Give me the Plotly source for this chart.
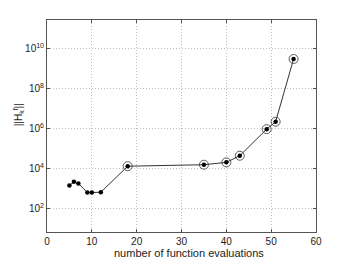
import plotly.graph_objects as go

evals = [5, 6, 7, 9, 10, 12, 18, 35, 40, 43, 49, 51, 55]
norm_h = [1480, 2240, 1860, 660, 660, 680, 13500, 16000, 21000, 45000, 950000, 2240000, 3.0e9]
circled_evals = [18, 35, 40, 43, 49, 51, 55]
circled_norm = [13500, 16000, 21000, 45000, 950000, 2240000, 3.0e9]

x_ticks = [0, 10, 20, 30, 40, 50, 60]
y_tick_vals = [1e2, 1e4, 1e6, 1e8, 1e10]
y_tick_text = ["10<sup>2</sup>", "10<sup>4</sup>", "10<sup>6</sup>", "10<sup>8</sup>", "10<sup>10</sup>"]
x_title = "number of function evaluations"
y_title = "||H<sub>k</sub><sup>f</sup>||"

FONT = "Liberation Sans, Arial"

fig = go.Figure()
fig.add_trace(go.Scatter(x=evals, y=norm_h, mode="lines+markers",
                         line=dict(color="black", width=0.8),
                         marker=dict(color="black", size=4.5),
                         showlegend=False))
fig.add_trace(go.Scatter(x=circled_evals, y=circled_norm, mode="markers",
                         marker=dict(color="rgba(0,0,0,0)", size=9,
                                     line=dict(color="#333", width=0.8)),
                         showlegend=False))

axis_common = dict(showline=True, linecolor="#555", linewidth=1, mirror="ticks",
                   ticks="inside", ticklen=3, tickcolor="#555",
                   showgrid=True, gridcolor="#bdbdbd", griddash="1px,2px", gridwidth=1,
                   zeroline=False, automargin=False,
                   tickfont=dict(family=FONT, size=10, color="#222"))

fig.update_xaxes(range=[0, 60], tickvals=x_ticks, **axis_common)
fig.update_yaxes(type="log", range=[0.85, 11.42], tickvals=y_tick_vals, ticktext=y_tick_text,
                 **axis_common)

fig.add_annotation(text=x_title, xref="paper", yref="paper", x=0.528, y=-0.10,
                   showarrow=False, xanchor="center", yanchor="middle",
                   font=dict(family=FONT, size=11, color="#222"))
fig.add_annotation(text=y_title, xref="paper", yref="paper", x=-0.108, y=0.555,
                   showarrow=False, xanchor="center", yanchor="middle", textangle=-90,
                   font=dict(family=FONT, size=10, color="#222"))

fig.update_layout(width=341, height=254, margin=dict(l=39, r=33, t=12, b=30),
                  paper_bgcolor="white", plot_bgcolor="white")
fig.write_html("out.html")
